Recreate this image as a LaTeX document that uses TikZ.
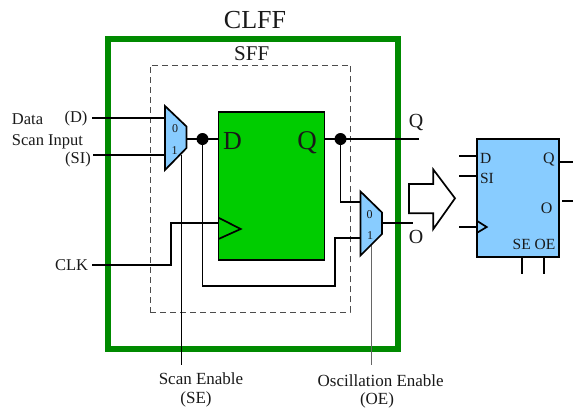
\documentclass[tikz,border=0pt]{standalone}
\usepackage{fontspec}
\setmainfont{Liberation Serif}
\usetikzlibrary{calc}
\definecolor{framegreen}{HTML}{008A00}
\definecolor{ffgreen}{HTML}{00CC00}
\definecolor{muxblue}{HTML}{88CCFF}
\newcommand{\fs}[1]{\fontsize{#1}{#1}\selectfont}
\tikzset{
  x=1pt,y=-1pt,
  wire/.style={draw=black,line width=1.7pt,line join=miter},
  thinwire/.style={draw=black,line width=0.8pt},
  graywire/.style={draw=black!60,line width=0.9pt},
  lab/.style={inner sep=0pt,outer sep=0pt,anchor=base,text=black!90},
  labl/.style={lab,anchor=base west},
  labr/.style={lab,anchor=base east},
  box/.style={draw=black,line width=1.7pt,inner sep=0pt,outer sep=0pt},
  muxshape/.style={draw=black,line width=1.7pt,fill=muxblue,line join=miter},
  joint/.style={circle,fill=black,inner sep=0pt,minimum size=12pt},
}
\begin{document}
\begin{tikzpicture}
\useasboundingbox (0,0) rectangle (573,408);
% frames
\node[draw=framegreen,line width=6pt,minimum width=290pt,minimum height=310pt,inner sep=0pt] (clff) at (253,194) {};
\node[draw=black!70,dashed,dash pattern=on 6pt off 4pt,line width=0.9pt,minimum width=200pt,minimum height=247.5pt,inner sep=0pt] (sff) at (250,188.7) {};
% flip-flop
\node[box,fill=ffgreen,minimum width=106pt,minimum height=148pt] (ff) at (271.5,186) {};
% scan mux
\coordinate (m1a) at (165,106); \coordinate (m1b) at (186.5,126.5);
\coordinate (m1c) at (186.5,148); \coordinate (m1d) at (165,170);
\coordinate (m2a) at (360.5,191.5); \coordinate (m2b) at (382,212.5);
\coordinate (m2c) at (382,234); \coordinate (m2d) at (360.5,255.5);
% enable lines go under the multiplexers
\coordinate (seend) at (181.5,365); \coordinate (sestart) at (181.5,155);
\coordinate (oeend) at (371.7,365); \coordinate (oestart) at (371.7,245);
\draw[thinwire] (sestart) -- (seend);
\draw[graywire] (oestart) -- (oeend);
% joints
\node[joint] (j1) at (202.5,139) {};
\node[joint] (j2) at (340.5,139) {};
% wires
\coordinate (din) at (92,117.7); \coordinate (din2) at (165,117.7);
\coordinate (siin) at (93,154.7); \coordinate (siin2) at (165,154.7);
\coordinate (m1out) at (186.5,139); \coordinate (ffd) at (218.5,139);
\coordinate (ffq) at (324.5,139); \coordinate (qout) at (419,139);
\coordinate (clkin) at (92,265); \coordinate (clkff) at (218.5,223);
\coordinate (m20) at (360.5,201.7); \coordinate (m21) at (360.5,238);
\coordinate (m2out) at (382,223); \coordinate (oout) at (413,223);
\draw[wire] (din) -- (din2);
\draw[wire] (siin) -- (siin2);
\draw[wire] (m1out) -- (ffd);
\draw[wire] (ffq) -- (qout);
\draw[wire] (clkin) -| (171,223) -- (clkff);
\draw[wire] (j1) |- (335,286) |- (m21);
\draw[wire] (j2) |- (m20);
\draw[wire] (m2out) -- (oout);
\draw[muxshape] (m1a) -- (m1b) -- (m1c) -- (m1d) -- cycle;
\draw[muxshape] (m2a) -- (m2b) -- (m2c) -- (m2d) -- cycle;
% clock triangle
\coordinate (cka) at (218.5,217.7); \coordinate (ckb) at (240.7,229); \coordinate (ckc) at (218.5,239);
\draw[wire] (cka) -- (ckb) -- (ckc);
% block arrow
\draw[wire] (409,184) -- (433.3,184) -- (433.3,169.5) -- (455,198.3) -- (433.3,229) -- (433.3,213.3) -- (409,213.3) -- cycle;
% symbol
\node[box,fill=muxblue,minimum width=82.3pt,minimum height=118pt] (sym) at (517.9,198) {};
\coordinate (pd) at (459,155.7); \coordinate (pdi) at (476.7,155.7);
\coordinate (psi) at (459,176); \coordinate (psii) at (476.7,176);
\coordinate (pc) at (459,226.7); \coordinate (pci) at (476.7,226.7);
\coordinate (pq) at (559,162); \coordinate (pqo) at (573,162);
\coordinate (po) at (562,201); \coordinate (poo) at (573,201);
\coordinate (pse) at (522,257); \coordinate (pseo) at (522,274);
\coordinate (poe) at (543.7,257); \coordinate (poeo) at (543.7,274);
\draw[wire] (pd) -- (pdi);
\draw[wire] (psi) -- (psii);
\draw[wire] (pc) -- (pci);
\draw[wire] (pq) -- (pqo);
\draw[wire] (po) -- (poo);
\draw[wire] (pse) -- (pseo);
\draw[wire] (poe) -- (poeo);
\draw[wire] (476.7,220.7) -- (486.7,227) -- (476.7,233);
% labels
\node[lab,font=\fs{26}] (tclff) at (255,28) {CLFF};
\node[lab,font=\fs{21}] (tsff) at (251.7,60) {SFF};
\node[labl,font=\fs{26}] (tffd) at (223,149) {D};
\node[lab,font=\fs{27}] (tffq) at (307,149) {Q};
\node[labl,font=\fs{16.5}] (tdata) at (12,124) {Data};
\node[lab,font=\fs{16.5}] (td) at (76,122) {(D)};
\node[labl,font=\fs{16.5}] (tscan) at (12,145) {Scan Input};
\node[lab,font=\fs{16.5}] (tsi) at (78,163) {(SI)};
\node[labr,font=\fs{16.5}] (tclk) at (88,270.7) {CLK};
\node[lab,font=\fs{12}] (m10) at (175,132.7) {0};
\node[lab,font=\fs{12}] (m11) at (174.5,154.7) {1};
\node[lab,font=\fs{12}] (m20t) at (369.5,218) {0};
\node[lab,font=\fs{12}] (m21t) at (370,239) {1};
\node[lab,font=\fs{20}] (tq) at (416,127.5) {Q};
\node[lab,font=\fs{20}] (to) at (416,243) {O};
\node[labl,font=\fs{15.5}] (sd) at (480,163) {D};
\node[labl,font=\fs{15.5}] (ssi) at (480,183) {SI};
\node[lab,font=\fs{16}] (sq) at (549,163) {Q};
\node[lab,font=\fs{16}] (so) at (546.7,213) {O};
\node[lab,font=\fs{15.5}] (sseoe) at (534,249) {SE OE};
\node[lab,font=\fs{17}] (tse) at (201,384) {Scan Enable};
\node[lab,font=\fs{17}] (tse2) at (196,403) {(SE)};
\node[lab,font=\fs{17}] (toe) at (380.7,386.7) {Oscillation Enable};
\node[lab,font=\fs{17}] (toe2) at (377,404) {(OE)};
\end{tikzpicture}
\end{document}
